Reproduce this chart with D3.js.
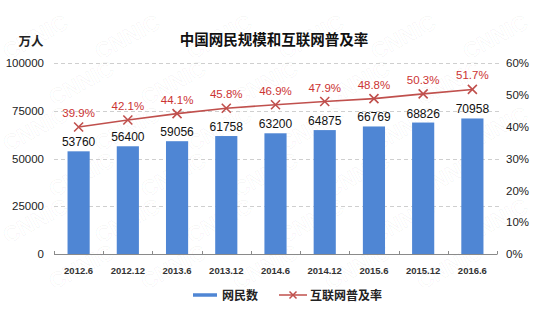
<!DOCTYPE html>
<html>
<head>
<meta charset="utf-8">
<script src="https://cdn.jsdelivr.net/npm/d3@7"></script>
<style>
  html, body { margin: 0; padding: 0; background: #fff; }
  svg { display: block; font-family: "Liberation Sans", Arial, sans-serif; }
</style>
</head>
<body>
<svg id="chart" width="550" height="324"></svg>
<script>
// Half-year survey periods
const periods = ["2012.6", "2012.12", "2013.6", "2013.12", "2014.6", "2014.12", "2015.6", "2015.12", "2016.6"];
// Internet users, 10k people
const users = [53760, 56400, 59056, 61758, 63200, 64875, 66769, 68826, 70958];
// Internet penetration rate, %
const penetration = [39.9, 42.1, 44.1, 45.8, 46.9, 47.9, 48.8, 50.3, 51.7];
// Axis ticks
const userTicks = [0, 25000, 50000, 75000, 100000];
const rateTicks = [0, 10, 20, 30, 40, 50, 60];

const svg = d3.select("#chart");
const W = 550, H = 324;
const margin = { left: 54, right: 53, top: 63, bottom: 70 };
const x0 = margin.left, x1 = W - margin.right;
const yTop = margin.top, yBot = H - margin.bottom;

const barColor = "#4f86d4";
const lineColor = "#c0504d";
const rateTextColor = "#cc3333";

// Faint repeated watermark, kept fully inside the canvas
const wm = svg.append("g").attr("class", "watermark");
for (let r = 0; r < 7; r++) {
  for (let c = 0; c < 7; c++) {
    const wx = c * 92 + (r % 2) * 46 + 8;
    const wy = r * 46 + 60;
    if (wx + 70 > W - 4 || wy > H - 4) continue;
    wm.append("text")
      .attr("transform", `translate(${wx},${wy}) rotate(-28)`)
      .attr("font-size", 22)
      .attr("font-weight", "bold")
      .attr("fill", "none")
      .attr("stroke", "#000")
      .attr("stroke-opacity", 0.035)
      .attr("stroke-width", 1.1)
      .text("CNNIC");
  }
}

const x = d3.scaleBand().domain(periods).range([x0, x1]).paddingInner(0.55).paddingOuter(0.275);
const band = d3.scaleBand().domain(periods).range([x0, x1]);
const yL = d3.scaleLinear().domain([0, 100000]).range([yBot, yTop]);
const yR = d3.scaleLinear().domain([0, 60]).range([yBot, yTop]);

// Dashed gridlines
svg.append("g").selectAll("line")
  .data(userTicks.filter(d => d > 0))
  .join("line")
  .attr("x1", x0).attr("x2", x1 + 3)
  .attr("y1", d => Math.round(yL(d)) + 0.5).attr("y2", d => Math.round(yL(d)) + 0.5)
  .attr("stroke", "#cfcfcf")
  .attr("stroke-dasharray", "4,3");

// Left axis
const leftAxis = svg.append("g")
  .attr("transform", `translate(${x0},0)`)
  .call(d3.axisLeft(yL).tickValues(userTicks).tickSize(0).tickPadding(10).tickFormat(d3.format("d")));
leftAxis.select(".domain").remove();
leftAxis.selectAll("text").attr("font-size", 11.5).attr("fill", "#222");

// Right axis
const rightAxis = svg.append("g")
  .attr("transform", `translate(${x1},0)`)
  .call(d3.axisRight(yR).tickValues(rateTicks).tickSize(0).tickPadding(9).tickFormat(d => d + "%"));
rightAxis.select(".domain").remove();
rightAxis.selectAll("text").attr("font-size", 11.5).attr("fill", "#222");

// Bars
svg.append("g").selectAll("rect")
  .data(users)
  .join("rect")
  .attr("x", (d, i) => x(periods[i]))
  .attr("width", x.bandwidth())
  .attr("y", d => yL(d))
  .attr("height", d => yBot - yL(d))
  .attr("fill", barColor);

// Bar value labels
svg.append("g").selectAll("text")
  .data(users)
  .join("text")
  .attr("x", (d, i) => x(periods[i]) + x.bandwidth() / 2)
  .attr("y", d => yL(d) - 5)
  .attr("text-anchor", "middle")
  .attr("font-size", 12)
  .attr("fill", "#111")
  .text(d => d);

// Bottom axis with ticks at band edges
const bottomAxis = svg.append("g").attr("transform", `translate(0,${yBot})`);
bottomAxis.append("line")
  .attr("x1", x0).attr("x2", x1)
  .attr("y1", 0.5).attr("y2", 0.5)
  .attr("stroke", "#8a8a8a");
bottomAxis.selectAll("line.tick")
  .data(periods.concat(["end"]))
  .join("line")
  .attr("class", "tick")
  .attr("x1", (d, i) => Math.round(x0 + i * band.bandwidth()) + 0.5)
  .attr("x2", (d, i) => Math.round(x0 + i * band.bandwidth()) + 0.5)
  .attr("y1", -3).attr("y2", 0.5)
  .attr("stroke", "#8a8a8a");
bottomAxis.selectAll("text")
  .data(periods)
  .join("text")
  .attr("x", d => band(d) + band.bandwidth() / 2)
  .attr("y", 20)
  .attr("text-anchor", "middle")
  .attr("font-size", 9.5)
  .attr("font-weight", "bold")
  .attr("fill", "#333")
  .text(d => d);

// Penetration line
const cx = i => x(periods[i]) + x.bandwidth() / 2;
const line = d3.line().x((d, i) => cx(i)).y(d => yR(d));
svg.append("path")
  .datum(penetration)
  .attr("d", line)
  .attr("fill", "none")
  .attr("stroke", lineColor)
  .attr("stroke-width", 1.6);

// X markers
const m = 4.5;
svg.append("g").selectAll("path")
  .data(penetration)
  .join("path")
  .attr("d", (d, i) => {
    const px = cx(i), py = yR(d);
    return `M${px - m},${py - m}L${px + m},${py + m}M${px - m},${py + m}L${px + m},${py - m}`;
  })
  .attr("stroke", lineColor)
  .attr("stroke-width", 1.6);

// Penetration labels
svg.append("g").selectAll("text")
  .data(penetration)
  .join("text")
  .attr("x", (d, i) => cx(i))
  .attr("y", d => yR(d) - 10)
  .attr("text-anchor", "middle")
  .attr("font-size", 11.5)
  .attr("fill", rateTextColor)
  .text(d => d.toFixed(1) + "%");

// Title and unit
svg.append("text")
  .attr("x", 274).attr("y", 45)
  .attr("text-anchor", "middle")
  .attr("font-family", "'Noto Sans CJK SC', sans-serif")
  .attr("font-size", 14.5)
  .attr("font-weight", "bold")
  .attr("fill", "#111")
  .text("中国网民规模和互联网普及率");

svg.append("text")
  .attr("x", 31).attr("y", 46)
  .attr("text-anchor", "middle")
  .attr("font-family", "'Noto Sans CJK SC', sans-serif")
  .attr("font-size", 12.5)
  .attr("font-weight", "bold")
  .attr("fill", "#222")
  .text("万人");

// Legend
const lg = svg.append("g").attr("font-family", "'Noto Sans CJK SC', sans-serif");
lg.append("line")
  .attr("x1", 193).attr("x2", 217).attr("y1", 295).attr("y2", 295)
  .attr("stroke", barColor).attr("stroke-width", 3.5);
lg.append("text")
  .attr("x", 222).attr("y", 299.5)
  .attr("font-size", 12).attr("font-weight", "bold").attr("fill", "#222")
  .text("网民数");
lg.append("line")
  .attr("x1", 279).attr("x2", 307).attr("y1", 295).attr("y2", 295)
  .attr("stroke", lineColor).attr("stroke-width", 1.5);
lg.append("path")
  .attr("d", `M${293 - 3.5},${295 - 3.5}L${293 + 3.5},${295 + 3.5}M${293 - 3.5},${295 + 3.5}L${293 + 3.5},${295 - 3.5}`)
  .attr("stroke", lineColor).attr("stroke-width", 1.5);
lg.append("text")
  .attr("x", 310).attr("y", 299.5)
  .attr("font-size", 12).attr("font-weight", "bold").attr("fill", "#222")
  .text("互联网普及率");
</script>
</body>
</html>
